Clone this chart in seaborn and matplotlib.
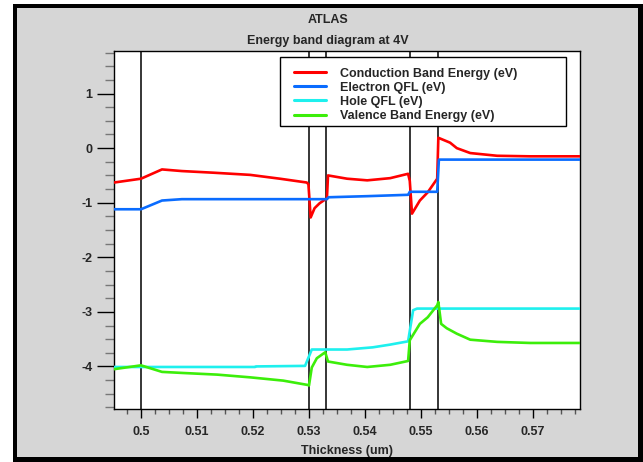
import numpy as np
import pandas as pd
import seaborn as sns
import matplotlib
matplotlib.use("Agg")
import matplotlib.pyplot as plt
from matplotlib.patches import Rectangle
from matplotlib.ticker import MultipleLocator, FixedLocator
from matplotlib.lines import Line2D

# Band profile along the device thickness (um) -> energy (eV)
cond_x = [0.4952, 0.5, 0.50375, 0.5073, 0.5129, 0.5195, 0.5248, 0.5296, 0.5299,
          0.5303, 0.5310, 0.5319, 0.5329, 0.5332, 0.5334, 0.5368, 0.5404, 0.5445,
          0.5477, 0.5480, 0.5484, 0.5498, 0.5512, 0.5529, 0.5531, 0.5552, 0.5564,
          0.5588, 0.5636, 0.5695, 0.5784]
cond_y = [-0.63, -0.56, -0.39, -0.42, -0.45, -0.49, -0.56, -0.63, -0.66,
          -1.27, -1.10, -1.01, -0.94, -0.93, -0.50, -0.56, -0.59, -0.55,
          -0.47, -0.60, -1.20, -0.96, -0.81, -0.56, 0.19, 0.10, 0.00,
          -0.09, -0.14, -0.15, -0.15]

efn_x = [0.4952, 0.5, 0.50375, 0.5073, 0.5300, 0.5332, 0.5335, 0.5404, 0.5477,
         0.5480, 0.5529, 0.5532, 0.5784]
efn_y = [-1.12, -1.12, -0.96, -0.935, -0.935, -0.935, -0.90, -0.88, -0.855,
         -0.80, -0.80, -0.21, -0.21]

efp_x = [0.4952, 0.5204, 0.5205, 0.5293, 0.5305, 0.5368, 0.5414, 0.5445, 0.5477,
         0.5486, 0.5493, 0.5784]
efp_y = [-4.01, -4.01, -4.00, -3.99, -3.69, -3.69, -3.65, -3.60, -3.54,
         -2.97, -2.94, -2.94]

val_x = [0.4952, 0.5, 0.50375, 0.5075, 0.5136, 0.5195, 0.5254, 0.5298, 0.5300,
         0.5305, 0.5314, 0.5329, 0.5334, 0.5368, 0.5404, 0.5445, 0.5477, 0.5480,
         0.5498, 0.5512, 0.5529, 0.5531, 0.5536, 0.5546, 0.5564, 0.5588, 0.5636,
         0.5695, 0.5784]
val_y = [-4.05, -3.98, -4.10, -4.12, -4.15, -4.20, -4.26, -4.34, -4.35,
         -4.02, -3.85, -3.74, -3.91, -3.97, -4.01, -3.97, -3.90, -3.52,
         -3.22, -3.10, -2.88, -2.82, -3.22, -3.30, -3.40, -3.51, -3.55,
         -3.57, -3.57]

interfaces = [0.5, 0.53, 0.533, 0.548, 0.553]

x_ticks = [0.5, 0.51, 0.52, 0.53, 0.54, 0.55, 0.56, 0.57]
x_tick_labels = ["0.5", "0.51", "0.52", "0.53", "0.54", "0.55", "0.56", "0.57"]
y_ticks = [-4, -3, -2, -1, 0, 1]
y_tick_labels = ["-4", "-3", "-2", "-1", "0", "1"]

series = [
    ("Conduction Band Energy (eV)", cond_x, cond_y, "#ff0000"),
    ("Electron QFL (eV)", efn_x, efn_y, "#0a6cff"),
    ("Hole QFL (eV)", efp_x, efp_y, "#1ef0ee"),
    ("Valence Band Energy (eV)", val_x, val_y, "#3cee0a"),
]

sns.set_style("ticks")
plt.rcParams["font.family"] = ["Liberation Sans", "DejaVu Sans"]
plt.rcParams["font.weight"] = "bold"
plt.rcParams["axes.unicode_minus"] = False

FS = 9
W, H = 643, 462
fig = plt.figure(figsize=(W / 100, H / 100), dpi=100, facecolor="white")

# framed grey panel
fig.patches.append(Rectangle((13 / W, 0), 630 / W, 458 / H, transform=fig.transFigure,
                             facecolor="black", edgecolor="none", zorder=-3))
fig.patches.append(Rectangle((17 / W, 5 / H), 621 / W, 449 / H, transform=fig.transFigure,
                             facecolor="#d6d6d6", edgecolor="none", zorder=-2))

AX_L, AX_T, AX_R, AX_B = 114, 51, 580, 409
ax = fig.add_axes([AX_L / W, (H - AX_B) / H, (AX_R - AX_L) / W, (AX_B - AX_T) / H])
ax.set_facecolor("white")


def ax_frac(px, py):
    return (px - AX_L) / (AX_R - AX_L), (AX_B - py) / (AX_B - AX_T)


for xv in interfaces:
    ax.axvline(xv, color="black", lw=1.1, zorder=1)

handles = []
for name, xs, ys, col in series:
    df = pd.DataFrame({"x": xs, "y": ys})
    sns.lineplot(data=df, x="x", y="y", color=col, lw=1.9, sort=False,
                 estimator=None, ax=ax, zorder=3)
    handles.append(Line2D([], [], color=col, lw=2.2, label=name))

ax.set_xlim(0.49518, 0.5784)
ax.set_ylim(-4.78, 1.78)

ax.xaxis.set_major_locator(FixedLocator(x_ticks))
ax.set_xticklabels(x_tick_labels)
ax.xaxis.set_minor_locator(MultipleLocator(0.0025))
ax.yaxis.set_major_locator(FixedLocator(y_ticks))
ax.set_yticklabels(y_tick_labels)
ax.yaxis.set_minor_locator(MultipleLocator(0.25))

ax.tick_params(axis="x", which="major", length=6.5, width=1, pad=6, labelsize=FS, color="black")
ax.tick_params(axis="x", which="minor", length=3.5, width=1, color="#555555")
ax.tick_params(axis="y", which="major", length=12, width=1, pad=3.5, labelsize=FS, color="black")
ax.tick_params(axis="y", which="minor", length=6.5, width=1, color="#777777")
for lab in ax.get_xticklabels() + ax.get_yticklabels():
    lab.set_fontweight("bold")

for sp in ax.spines.values():
    sp.set_visible(True)
    sp.set_color("black")
    sp.set_linewidth(1)

ax.set_xlabel("Thickness (um)", fontsize=FS, fontweight="bold", labelpad=5)
ax.set_ylabel("")

fig.text(328 / W, 1 - 20 / H, "ATLAS", ha="center", va="center",
         fontsize=FS, fontweight="bold")
fig.text(328 / W, 1 - 41 / H, "Energy band diagram at 4V", ha="center", va="center",
         fontsize=FS, fontweight="bold")

# legend box
bx0, by0 = ax_frac(280, 126)
bx1, by1 = ax_frac(566, 57)
ax.add_patch(Rectangle((bx0, by0), bx1 - bx0, by1 - by0, transform=ax.transAxes,
                       facecolor="white", edgecolor="black", lw=1, zorder=5))

lx, ly = ax_frac(294, 67.5)
leg = ax.legend(handles=handles, loc="upper left", bbox_to_anchor=(lx, ly),
                borderaxespad=0, borderpad=0, frameon=False,
                handlelength=2.56, handletextpad=1.1,
                labelspacing=0.17, prop={"weight": "bold", "size": FS})
leg.set_zorder(6)

fig.savefig("out.png", dpi=100, facecolor=fig.get_facecolor())
